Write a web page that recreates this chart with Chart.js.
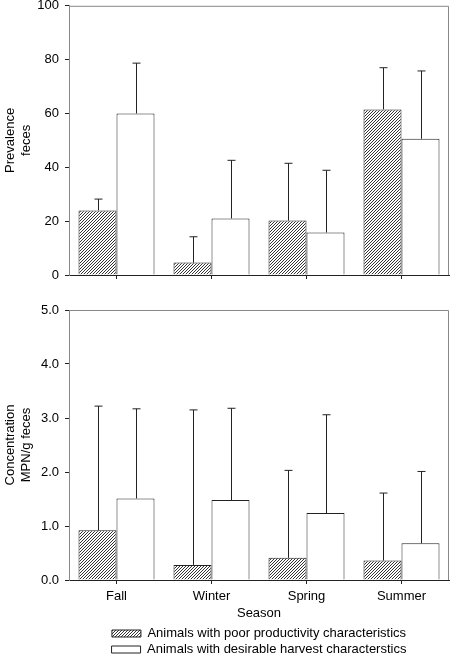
<!DOCTYPE html>
<html>
<head>
<meta charset="utf-8">
<script src="https://cdn.jsdelivr.net/npm/chart.js@4"></script>
<style>
  html, body { margin: 0; background: #fff; overflow: hidden; }
  #wrap { position: relative; width: 450px; height: 655px; overflow: hidden; }
  #top { position: absolute; left: 0; top: -8px; }
  #bottom { position: absolute; left: 0; top: 290px; }
</style>
</head>
<body>
<div id="wrap">
  <div id="top" style="width:450px;height:299px"><canvas id="c1"></canvas></div>
  <div id="bottom" style="width:450px;height:376px"><canvas id="c2"></canvas></div>
</div>
<script>
const seasons = ['Fall', 'Winter', 'Spring', 'Summer'];
const seriesNames = ['Animals with poor productivity characteristics', 'Animals with desirable harvest characterstics'];

const prevPoor = [24, 4.6, 20.2, 61.5];
const prevPoorErr = [28.2, 14.2, 41.5, 77];
const prevGood = [60, 21, 15.8, 50.6];
const prevGoodErr = [78.7, 42.6, 38.9, 75.8];

const concPoor = [0.92, 0.28, 0.41, 0.36];
const concPoorErr = [3.22, 3.15, 2.03, 1.61];
const concGood = [1.51, 1.48, 1.24, 0.68];
const concGoodErr = [3.17, 3.18, 3.06, 2.01];

Chart.defaults.font.family = '"Liberation Sans", Arial, sans-serif';
Chart.defaults.font.size = 13;
Chart.defaults.color = '#000';

// diagonal hatch
function hatch() {
  const pc = document.createElement('canvas');
  pc.width = 3; pc.height = 3;
  const g = pc.getContext('2d');
  g.fillStyle = '#fff';
  g.fillRect(0, 0, 3, 3);
  g.strokeStyle = '#333';
  g.lineWidth = 1;
  g.beginPath();
  g.moveTo(0, 3); g.lineTo(3, 0);
  g.moveTo(-1, 1); g.lineTo(1, -1);
  g.moveTo(2, 4); g.lineTo(4, 2);
  g.stroke();
  return g.createPattern(pc, 'repeat');
}
const hatchFill = hatch();

// upper error bars + gray frame
const extras = {
  id: 'extras',
  afterDatasetsDraw(chart) {
    const ctx = chart.ctx;
    const ys = chart.scales.y;
    ctx.save();
    ctx.strokeStyle = '#222';
    ctx.lineWidth = 1;
    chart.data.datasets.forEach((ds, i) => {
      const meta = chart.getDatasetMeta(i);
      meta.data.forEach((bar, j) => {
        const x = Math.round(bar.x) + 0.5;
        const yTop = ys.getPixelForValue(ds.err[j]);
        ctx.beginPath();
        ctx.moveTo(x, bar.y);
        ctx.lineTo(x, yTop);
        ctx.moveTo(x - 4, yTop);
        ctx.lineTo(x + 4, yTop);
        ctx.stroke();
      });
    });
    const a = chart.chartArea;
    ctx.strokeStyle = '#888';
    ctx.beginPath();
    ctx.moveTo(a.left, a.top + 0.5);
    ctx.lineTo(a.right - 0.5, a.top + 0.5);
    ctx.lineTo(a.right - 0.5, a.bottom);
    ctx.stroke();
    ctx.restore();
  }
};

function makeChart(id, poor, poorErr, good, goodErr, yMax, step, yTitle, fmt, opts) {
  return new Chart(document.getElementById(id), {
    type: 'bar',
    data: {
      labels: seasons,
      datasets: [
        { label: seriesNames[0], data: poor, err: poorErr, backgroundColor: hatchFill,
          borderColor: '#222', borderWidth: 1, borderSkipped: 'bottom' },
        { label: seriesNames[1], data: good, err: goodErr, backgroundColor: '#fff',
          borderColor: '#222', borderWidth: 1, borderSkipped: 'bottom' }
      ]
    },
    options: {
      responsive: true,
      maintainAspectRatio: false,
      animation: false,
      layout: { padding: opts.padding },
      datasets: { bar: { barPercentage: 1, categoryPercentage: 0.8 } },
      plugins: {
        tooltip: { enabled: false },
        legend: opts.legend
      },
      scales: {
        x: {
          grid: { display: true, drawOnChartArea: false, offset: false, tickLength: 4, color: '#222' },
          border: { color: '#222' },
          ticks: { display: opts.xLabels, padding: 5, color: '#000' },
          title: { display: opts.xLabels, text: 'Season', padding: { top: 0, bottom: 3 } },
          afterFit: s => { s.height = opts.xHeight; }
        },
        y: {
          min: 0, max: yMax,
          grid: { display: true, drawOnChartArea: false, tickLength: 4, color: '#222' },
          border: { color: '#888' },
          ticks: { stepSize: step, padding: 6, callback: fmt },
          title: { display: true, text: yTitle, padding: { top: 3, bottom: 0 } },
          afterFit: s => { s.width = 69; }
        }
      }
    },
    plugins: [extras]
  });
}

makeChart('c1', prevPoor, prevPoorErr, prevGood, prevGoodErr, 100, 20,
  ['Prevalence', 'feces'], v => v,
  { padding: { top: 5, right: 1, left: 0, bottom: 0 }, legend: { display: false }, xLabels: false, xHeight: 16 });

makeChart('c2', concPoor, concPoorErr, concGood, concGoodErr, 5, 1,
  ['Concentration', 'MPN/g feces'], v => v.toFixed(1),
  { padding: { top: 20, right: 1, left: 0, bottom: 0 },
    legend: {
      display: true, position: 'bottom', fullSize: false,
      labels: { boxWidth: 29, boxHeight: 7, padding: 3, color: '#000', font: { size: 13 } }
    },
    xLabels: true, xHeight: 44 });
</script>
</body>
</html>
